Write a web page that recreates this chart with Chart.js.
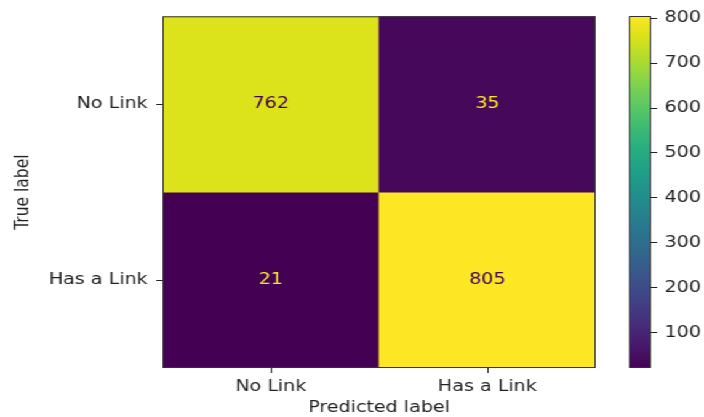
<!DOCTYPE html>
<html>
<head>
<meta charset="utf-8">
<script src="https://cdn.jsdelivr.net/npm/chart.js@4/dist/chart.umd.min.js"></script>
<style>
  body { margin: 0; background: #fff; }
  #wrap {
    position: absolute; left: 0; top: 0;
    width: 572px; height: 417px;
    transform: scaleX(1.2308); transform-origin: 0 0;
  }
  #matrix { position: absolute; left: 0; top: 0; }
  #cbar { position: absolute; left: 497px; top: 0; }
</style>
</head>
<body>
<div id="wrap">
  <canvas id="matrix" width="572" height="417"></canvas>
  <canvas id="cbar" width="75" height="417"></canvas>
</div>
<script>
// confusion matrix: rows = true label, columns = predicted label
const trueLabels = ['No Link', 'Has a Link'];
const predLabels = ['No Link', 'Has a Link'];
const row0 = [762, 35];
const row1 = [21, 805];
const counts = [row0, row1];
const cbarTicks = [100, 200, 300, 400, 500, 600, 700, 800];

// viridis, sampled every 1/16
const viridis = ['#440154', '#48186a', '#472d7b', '#424086', '#3b528b', '#33638d', '#2c728e', '#26828e',
  '#21918c', '#1fa088', '#28ae80', '#3fbc73', '#5ec962', '#84d44b', '#addc30', '#d8e219', '#fde725'];

const allVals = counts.flat();
const vmin = Math.min(...allVals);
const vmax = Math.max(...allVals);

function hexToRgb(h) {
  return [1, 3, 5].map(i => parseInt(h.slice(i, i + 2), 16));
}
function cmap(t) {
  t = Math.max(0, Math.min(1, t));
  const pos = t * (viridis.length - 1);
  const i = Math.min(Math.floor(pos), viridis.length - 2);
  const f = pos - i;
  const a = hexToRgb(viridis[i]), b = hexToRgb(viridis[i + 1]);
  const c = a.map((v, k) => Math.round(v + (b[k] - v) * f));
  return 'rgb(' + c.join(',') + ')';
}
const norm = v => (v - vmin) / (vmax - vmin);

const FONT = { family: 'DejaVu Sans', size: 15.5 };
const INK = '#222';

// thin frame around the plot area (the spines)
const frame = {
  id: 'frame',
  afterDraw(chart) {
    const { ctx, chartArea: a } = chart;
    ctx.save();
    ctx.strokeStyle = '#333';
    ctx.lineWidth = 1;
    ctx.strokeRect(a.left + 0.5, a.top + 0.5, a.right - a.left - 1, a.bottom - a.top - 1);
    ctx.restore();
  }
};

// cell counts written in the middle of every cell
const cellText = {
  id: 'cellText',
  afterDatasetsDraw(chart) {
    const ctx = chart.ctx;
    ctx.save();
    ctx.font = FONT.size + 'px "' + FONT.family + '"';
    ctx.textAlign = 'center';
    ctx.textBaseline = 'middle';
    counts.forEach((row, r) => {
      const meta = chart.getDatasetMeta(r);
      meta.data.forEach((bar, c) => {
        const p = bar.getProps(['x', 'y', 'base'], true);
        const v = row[c];
        ctx.fillStyle = v < (vmin + vmax) / 2 ? cmap(1) : cmap(0);
        ctx.fillText(String(v), p.x, (p.y + p.base) / 2);
      });
    });
    ctx.restore();
  }
};

new Chart(document.getElementById('matrix'), {
  type: 'bar',
  data: {
    labels: predLabels,
    datasets: counts.map((row, r) => ({
      label: trueLabels[r],
      data: row.map(() => [r, r + 1]),
      backgroundColor: row.map(v => cmap(norm(v))),
      borderWidth: 0,
      barPercentage: 1,
      categoryPercentage: 1,
      grouped: false
    }))
  },
  options: {
    responsive: false,
    animation: false,
    events: [],
    layout: { padding: { top: 16, right: 88, left: 0, bottom: 0 } },
    plugins: { legend: { display: false }, tooltip: { enabled: false } },
    scales: {
      x: {
        grid: { offset: false, drawOnChartArea: false, drawTicks: true, tickLength: 5, color: INK },
        border: { display: false },
        ticks: { color: INK, font: FONT, padding: 5, maxRotation: 0 },
        title: { display: true, text: 'Predicted label', color: INK, font: FONT, padding: { top: 0, bottom: 0 } },
        afterFit(scale) { scale.height = 49; }
      },
      y: {
        type: 'linear',
        min: 0,
        max: trueLabels.length,
        reverse: true,
        stacked: false,
        grid: { drawOnChartArea: false, drawTicks: true, tickLength: 5, color: INK },
        border: { display: false },
        afterBuildTicks(scale) {
          scale.ticks = trueLabels.map((l, i) => ({ value: i + 0.5 }));
        },
        ticks: {
          color: INK, font: FONT, padding: 7,
          callback: (v, i) => trueLabels[i]
        },
        title: { display: true, text: 'True label', color: INK, font: FONT, padding: { top: 10, bottom: 0 } },
        afterFit(scale) { scale.width = 132; }
      }
    }
  },
  plugins: [cellText, frame]
});

// colour bar
new Chart(document.getElementById('cbar'), {
  type: 'bar',
  data: {
    labels: [''],
    datasets: [{
      data: [[vmin, vmax]],
      backgroundColor(c) {
        const a = c.chart.chartArea;
        if (!a) return null;
        const g = c.chart.ctx.createLinearGradient(0, a.bottom, 0, a.top);
        viridis.forEach((col, i) => g.addColorStop(i / (viridis.length - 1), col));
        return g;
      },
      borderWidth: 0,
      barPercentage: 1,
      categoryPercentage: 1
    }]
  },
  options: {
    responsive: false,
    animation: false,
    events: [],
    layout: { padding: { top: 16, right: 0, left: 14, bottom: 49 } },
    plugins: { legend: { display: false }, tooltip: { enabled: false } },
    scales: {
      x: { display: false },
      y: {
        position: 'right',
        min: vmin,
        max: vmax,
        grid: { drawOnChartArea: false, drawTicks: true, tickLength: 5, color: INK },
        border: { display: false },
        afterBuildTicks(scale) {
          scale.ticks = cbarTicks.map(v => ({ value: v }));
        },
        ticks: { color: INK, font: FONT, padding: 6 },
        afterFit(scale) { scale.width = 43; }
      }
    }
  },
  plugins: [frame]
});
</script>
</body>
</html>
